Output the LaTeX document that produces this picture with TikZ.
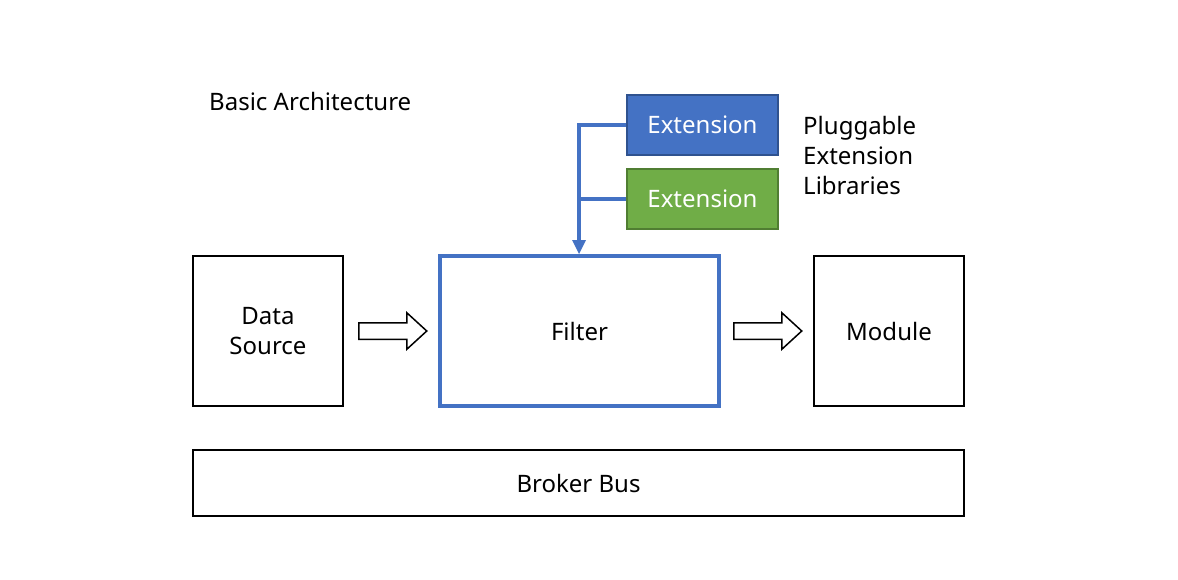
\documentclass[tikz,border=0pt]{standalone}
\usepackage{fontspec}
\setmainfont{Noto Sans}
\usetikzlibrary{shapes.arrows,arrows.meta}
\definecolor{extblue}{HTML}{4472C4}
\definecolor{extblueb}{HTML}{2F528F}
\definecolor{extgreen}{HTML}{70AD47}
\definecolor{extgreenb}{HTML}{507E32}
\begin{document}
\begin{tikzpicture}[x=1pt,y=-1pt,
  every node/.style={font=\fontsize{24}{30}\selectfont, inner sep=0pt},
  plainbox/.style={draw=black, line width=1.5pt, align=center},
  extbox/.style={minimum width=151pt, minimum height=60pt, text=white, line width=1.5pt},
  conn/.style={draw=extblue, line width=4pt},
  blockarrow/.style={single arrow, draw=black, line width=1.5pt, fill=white, inner xsep=0pt, inner ysep=7.5pt, single arrow head extend=10pt, single arrow tip angle=85, minimum height=68pt, anchor=tail}
]
\useasboundingbox (0,0) rectangle (1178,579);
\node[anchor=west] (title) at (209,101) {Basic Architecture};
\node[plainbox, minimum width=150pt, minimum height=150pt] (ds) at (268,331) {Data\\Source};
\node[draw=extblue, line width=4.5pt, minimum width=279pt, minimum height=150pt] (filter) at (579.5,331) {Filter};
\node[plainbox, minimum width=150pt, minimum height=150pt] (mod) at (889,331) {Module};
\node[plainbox, minimum width=771pt, minimum height=66pt] (bus) at (578.5,483) {Broker Bus};
\node[extbox, fill=extblue, draw=extblueb] (ext1) at (702.5,125) {Extension};
\node[extbox, fill=extgreen, draw=extgreenb] (ext2) at (702.5,199) {Extension};
\node[anchor=north west, align=left] (lib) at (803,116) {Pluggable\\Extension\\Libraries};
\coordinate (top) at (579,125);
\coordinate (mid) at (579,199);
\coordinate (tip) at (579,254);
\coordinate (linend) at (579,242);
\draw[conn] (ext1.west) -- (top) -- (linend);
\draw[conn] (ext2.west) -- (mid);
\fill[extblue] (tip) -- ++(-7,-14) -- ++(14,0) -- cycle;
\node[blockarrow] (a1) at (358,331) {};
\node[blockarrow] (a2) at (733,331) {};
\end{tikzpicture}
\end{document}
